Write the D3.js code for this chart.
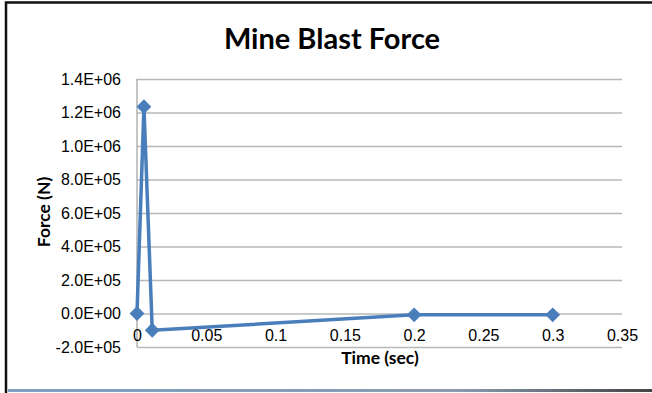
<!DOCTYPE html>
<html>
<head>
<meta charset="utf-8">
<script src="https://cdn.jsdelivr.net/npm/d3@7"></script>
<style>
	body { margin: 0; background: #fff; }
	svg { display: block; font-family: Lato, "Open Sans", sans-serif; }
	.tick text { fill: #000; }
	.axis-label { font-weight: bold; font-size: 17.5px; fill: #000; }
	.chart-title { font-weight: bold; font-size: 29px; fill: #000; }
</style>
</head>
<body>
<svg id="chart"></svg>
<script>
// chart data
const timeSec = [0, 0.005, 0.011, 0.2, 0.3];
const forceN = [0, 1235000, -100000, -8000, -8000];

// axis ticks and labels
const xTickValues = [0, 0.05, 0.1, 0.15, 0.2, 0.25, 0.3, 0.35];
const xTickLabels = ['0', '0.05', '0.1', '0.15', '0.2', '0.25', '0.3', '0.35'];
const yTickValues = [-200000, 0, 200000, 400000, 600000, 800000, 1000000, 1200000, 1400000];
const yTickLabels = ['-2.0E+05', '0.0E+00', '2.0E+05', '4.0E+05', '6.0E+05', '8.0E+05', '1.0E+06', '1.2E+06', '1.4E+06'];

class LineChart {

	constructor(_config, _data) {
		this.config = {
			parentElement: _config.parentElement,
			containerWidth: _config.containerWidth || 652,
			containerHeight: _config.containerHeight || 393,
			margin: _config.margin || { top: 79, right: 30, bottom: 46, left: 137 }
		}
		this.data = _data;
		this.initVis();
	}

	initVis() {
		let vis = this;

		vis.width = vis.config.containerWidth - vis.config.margin.left - vis.config.margin.right;
		vis.height = vis.config.containerHeight - vis.config.margin.top - vis.config.margin.bottom;

		vis.xScale = d3.scaleLinear()
			.domain([0, 0.35])
			.range([0, vis.width]);

		vis.yScale = d3.scaleLinear()
			.domain([-200000, 1400000])
			.range([vis.height, 0]);

		vis.svg = d3.select(vis.config.parentElement)
			.attr('width', vis.config.containerWidth)
			.attr('height', vis.config.containerHeight);

		// frame of the chart area (left and top edges, bluish bottom edge)
		const grad = vis.svg.append('defs').append('linearGradient')
			.attr('id', 'bottom-edge');
		grad.append('stop').attr('offset', '0%').attr('stop-color', '#7d9fc4');
		grad.append('stop').attr('offset', '70%').attr('stop-color', '#8a9bb0');
		grad.append('stop').attr('offset', '100%').attr('stop-color', '#444');

		vis.svg.append('rect')
			.attr('x', 8)
			.attr('y', 389)
			.attr('width', vis.config.containerWidth - 8)
			.attr('height', 3)
			.attr('fill', 'url(#bottom-edge)');

		vis.svg.append('path')
			.attr('d', `M6,${vis.config.containerHeight} V2.5 H${vis.config.containerWidth}`)
			.attr('fill', 'none')
			.attr('stroke', '#111')
			.attr('stroke-width', 2.5);

		vis.chart = vis.svg.append('g')
			.attr('transform', `translate(${vis.config.margin.left},${vis.config.margin.top})`);

		// Y axis with gridlines
		vis.yAxis = d3.axisLeft(vis.yScale)
			.tickValues(yTickValues)
			.tickFormat((d, i) => yTickLabels[i])
			.tickSize(-vis.width)
			.tickPadding(16);

		vis.yAxisG = vis.chart.append('g')
			.attr('class', 'axis y-axis')
			.call(vis.yAxis);
		vis.yAxisG.select('.domain').remove();
		vis.yAxisG.selectAll('.tick line')
			.attr('stroke', '#b8b8b8')
			.attr('stroke-width', 1.3);
		vis.yAxisG.selectAll('.tick text')
			.attr('font-size', 16);

		// vertical axis line
		vis.chart.append('line')
			.attr('x1', vis.xScale(0))
			.attr('x2', vis.xScale(0))
			.attr('y1', 0)
			.attr('y2', vis.height)
			.attr('stroke', '#a6a6a6')
			.attr('stroke-width', 1.3);

		// X axis crossing at zero force
		vis.xAxis = d3.axisBottom(vis.xScale)
			.tickValues(xTickValues)
			.tickFormat((d, i) => xTickLabels[i])
			.tickSize(0)
			.tickPadding(16.5);

		vis.xAxisG = vis.chart.append('g')
			.attr('class', 'axis x-axis')
			.attr('transform', `translate(0,${vis.yScale(0)})`)
			.call(vis.xAxis);
		vis.xAxisG.select('.domain').remove();
		vis.xAxisG.selectAll('.tick text')
			.attr('font-size', 16);

		// Title
		vis.svg.append('text')
			.attr('class', 'chart-title')
			.attr('text-anchor', 'middle')
			.attr('x', 332)
			.attr('y', 49)
			.text('Mine Blast Force');

		// Axis titles
		vis.svg.append('text')
			.attr('class', 'axis-label')
			.attr('text-anchor', 'middle')
			.attr('x', 380)
			.attr('y', 364)
			.text('Time (sec)');

		vis.svg.append('text')
			.attr('class', 'axis-label')
			.attr('text-anchor', 'middle')
			.attr('transform', `translate(50, 212) rotate(-90)`)
			.text('Force (N)');

		this.renderVis();
	}

	renderVis() {
		let vis = this;

		const line = d3.line()
			.x(d => vis.xScale(d.time))
			.y(d => vis.yScale(d.force));

		vis.chart.append('path')
			.datum(vis.data)
			.attr('d', line)
			.attr('fill', 'none')
			.attr('stroke', '#4a7ebb')
			.attr('stroke-width', 3.5)
			.attr('stroke-linejoin', 'round');

		const diamond = d3.symbol().type(d3.symbolSquare).size(110);

		vis.chart.selectAll('.marker')
			.data(vis.data)
			.enter()
			.append('path')
			.attr('class', 'marker')
			.attr('d', diamond)
			.attr('transform', d => `translate(${vis.xScale(d.time)},${vis.yScale(d.force)}) rotate(45)`)
			.attr('fill', '#4a7ebb');
	}
}

const chartData = timeSec.map((t, i) => ({ time: t, force: forceN[i] }));

new LineChart({ parentElement: '#chart' }, chartData);
</script>
</body>
</html>
